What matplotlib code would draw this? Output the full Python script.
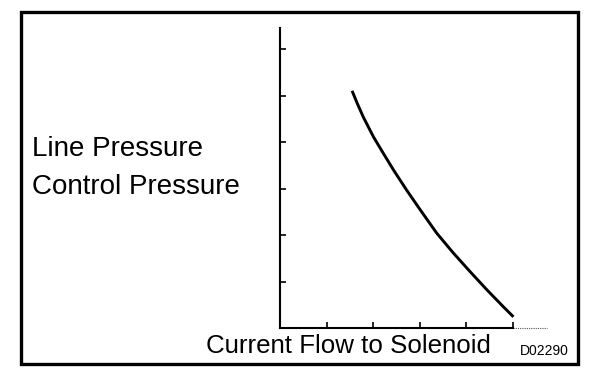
import matplotlib
matplotlib.use('Agg')
import matplotlib.pyplot as plt
from matplotlib.patches import Rectangle

# current (tick units) vs pressure (tick units)
current = [1.55, 1.67, 1.79, 2.01, 2.22, 2.44, 2.72, 3.01, 3.37, 3.73, 4.09, 4.45, 4.80, 5.02]
pressure = [5.10, 4.81, 4.54, 4.11, 3.76, 3.40, 2.97, 2.55, 2.04, 1.61, 1.21, 0.82, 0.46, 0.24]

x_ticks = [1, 2, 3, 4, 5]
y_ticks = [1, 2, 3, 4, 5, 6]

y_label_lines = ['Line Pressure', 'Control Pressure']
x_label = 'Current Flow to Solenoid'
fig_code = 'D02290'

W, H = 608, 374


def fx(px):
	return px / W


def fy(py):
	return (H - py) / H


def draw():
	plt.rcParams['font.family'] = ['Liberation Sans', 'DejaVu Sans']
	fig = plt.figure(figsize=(W / 100, H / 100), dpi=100)
	fig.patch.set_facecolor('white')

	unit = 46.5  # pixels per tick
	xmax, ymax = 5.8, 6.45
	ax = fig.add_axes([fx(280), fy(328), xmax * unit / W, ymax * unit / H])
	ax.set_xlim(0, xmax)
	ax.set_ylim(0, ymax)
	ax.patch.set_alpha(0)

	ax.plot(current, pressure, color='black', lw=2.1, solid_capstyle='butt', solid_joinstyle='round')

	for s in ['top', 'right']:
		ax.spines[s].set_visible(False)
	for s in ['left', 'bottom']:
		ax.spines[s].set_linewidth(1.5)
		ax.spines[s].set_color('black')
	ax.spines['bottom'].set_bounds(0, 5)
	# dotted continuation of the x axis
	ax.plot([5, 5.75], [0, 0], color='#555555', lw=0.8, ls=(0, (1, 1)), clip_on=False)

	ax.set_xticks(x_ticks)
	ax.set_yticks(y_ticks)
	ax.set_xticklabels([])
	ax.set_yticklabels([])
	ax.tick_params(direction='in', length=4, width=1.2, color='black')

	# labels
	fig.text(fx(32), fy(156), y_label_lines[0], fontsize=20, va='baseline', ha='left')
	fig.text(fx(32), fy(194), y_label_lines[1], fontsize=20, va='baseline', ha='left')
	fig.text(fx(206), fy(353), x_label, fontsize=18.6, va='baseline', ha='left')
	fig.text(fx(520), fy(355), fig_code, fontsize=10, va='baseline', ha='left')

	# frame round the whole diagram
	fig.patches.append(Rectangle((fx(20.5), fy(364)), fx(577.5) - fx(20.5), fy(12) - fy(364),
		transform=fig.transFigure, fill=False, lw=2.4, ec='black'))

	fig.savefig('out.png', dpi=100)


if __name__ == '__main__':
	draw()
